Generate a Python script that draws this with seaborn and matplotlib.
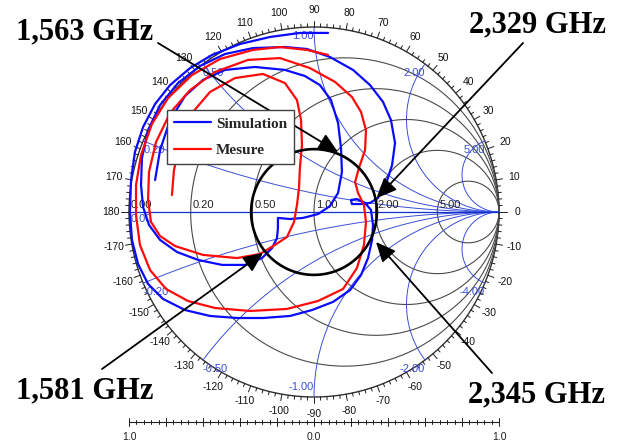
import numpy as np
import pandas as pd
import matplotlib.pyplot as plt
import seaborn as sns

# Smith chart grid values
r_circles = [0.2, 0.5, 1.0, 2.0, 5.0]
r_labels = ["0.20", "0.50", "1.00", "2.00", "5.00"]
x_arcs = [0.2, 0.5, 1.0, 2.0, 5.0, -0.2, -0.5, -1.0, -2.0, -5.0]
x_labels = ["0.20", "0.50", "1.00", "2.00", "5.00", "-0.20", "-0.50", "-1.00", "-2.00", "-4.00"]

sim_re = [0.076, -0.076, -0.238, -0.400, -0.551, -0.670, -0.778, -0.859, -0.924, -0.968,
          -0.989, -0.995, -0.984, -0.951, -0.897, -0.816, -0.697, -0.562, -0.416, -0.276,
          -0.130, -0.011, 0.103, 0.195, 0.254, 0.292, 0.314, 0.319, 0.308, 0.276,
          0.232, 0.200, 0.205, 0.249, 0.303, 0.346, 0.389, 0.422, 0.438, 0.416,
          0.373, 0.303, 0.211, 0.086, -0.038, -0.157, -0.330, -0.481, -0.616, -0.735,
          -0.832, -0.897, -0.930, -0.935, -0.924, -0.892, -0.832, -0.741, -0.627, -0.497,
          -0.373, -0.281, -0.227, -0.200, -0.195, -0.195, -0.130, -0.059, 0.022, 0.086,
          0.130, 0.151, 0.146, 0.130, 0.092, 0.032, -0.049, -0.157, -0.319, -0.481,
          -0.600, -0.697, -0.778, -0.832, -0.859]
sim_im = [0.968, 0.968, 0.946, 0.908, 0.849, 0.778, 0.686, 0.584, 0.459, 0.324,
          0.173, 0.000, -0.151, -0.281, -0.389, -0.470, -0.530, -0.562, -0.573, -0.573,
          -0.562, -0.530, -0.486, -0.422, -0.341, -0.249, -0.151, -0.070, 0.011, 0.049,
          0.070, 0.065, 0.043, 0.043, 0.049, 0.076, 0.151, 0.254, 0.373, 0.497,
          0.595, 0.686, 0.768, 0.838, 0.881, 0.892, 0.886, 0.854, 0.789, 0.697,
          0.578, 0.443, 0.292, 0.146, 0.027, -0.070, -0.151, -0.216, -0.259, -0.286,
          -0.286, -0.249, -0.195, -0.141, -0.086, -0.032, -0.038, -0.032, -0.011, 0.032,
          0.103, 0.216, 0.346, 0.481, 0.605, 0.686, 0.735, 0.768, 0.784, 0.768,
          0.714, 0.627, 0.497, 0.335, 0.173]

mes_re = [0.076, -0.038, -0.184, -0.330, -0.508, -0.659, -0.789, -0.876, -0.935, -0.962,
          -0.962, -0.941, -0.886, -0.800, -0.681, -0.535, -0.346, -0.146, 0.022, 0.157,
          0.232, 0.270, 0.281, 0.270, 0.238, 0.222, 0.243, 0.276, 0.281, 0.254,
          0.205, 0.114, -0.022, -0.184, -0.357, -0.535, -0.670, -0.778, -0.854, -0.892,
          -0.897, -0.881, -0.832, -0.751, -0.600, -0.416, -0.292, -0.211, -0.146, -0.108,
          -0.092, -0.081, -0.076, -0.065, -0.070, -0.092, -0.157, -0.276, -0.427, -0.562,
          -0.654, -0.719, -0.757, -0.768]
mes_im = [0.849, 0.876, 0.892, 0.876, 0.827, 0.741, 0.616, 0.476, 0.308, 0.146,
          -0.016, -0.178, -0.314, -0.416, -0.481, -0.519, -0.535, -0.524, -0.481, -0.416,
          -0.303, -0.178, -0.054, 0.038, 0.103, 0.162, 0.238, 0.335, 0.443, 0.541,
          0.622, 0.703, 0.778, 0.832, 0.822, 0.757, 0.659, 0.535, 0.378, 0.216,
          0.065, -0.054, -0.130, -0.184, -0.232, -0.249, -0.227, -0.178, -0.135, -0.054,
          0.038, 0.130, 0.243, 0.362, 0.497, 0.605, 0.697, 0.746, 0.724, 0.649,
          0.541, 0.389, 0.227, 0.092]

# marked frequencies and the |S11| circle they sit on
freq_labels = ["1,563 GHz", "2,329 GHz", "1,581 GHz", "2,345 GHz"]
marker_radius = 0.34

sns.set_style("white")
plt.rcParams["font.family"] = ["Liberation Sans", "DejaVu Sans"]

W, H = 622, 443
CX, CY, R = 314, 212, 185


def px(x, y):
    # pixel position in the picture -> chart units (layout only)
    return (x - CX) / R, (CY - y) / R


fig = plt.figure(figsize=(W / 100, H / 100), dpi=100)
ax = fig.add_axes([0, 0, 1, 1])
ax.set_xlim(-CX / R, (W - CX) / R)
ax.set_ylim((CY - H) / R, CY / R)
ax.axis("off")

grid_k = "#4a4a4a"
grid_b = "#3a4fd8"
t = np.linspace(0, 2 * np.pi, 400)

# outer circle
ax.plot(np.cos(t), np.sin(t), color="#303030", lw=1.0, zorder=2)

# constant resistance circles
for r, lab in zip(r_circles, r_labels):
    c, rad = r / (1 + r), 1 / (1 + r)
    ax.plot(c + rad * np.cos(t), rad * np.sin(t), color=grid_k, lw=0.8, zorder=2)
    ax.text(c - rad + 0.01, 0.012, lab, fontsize=8, color="#222222", ha="left", va="bottom", zorder=3)
ax.text(-0.99, 0.012, "0.00", fontsize=8, color="#222222", ha="left", va="bottom", zorder=3)
ax.text(-0.99, -0.012, "0.00", fontsize=8, color=grid_b, ha="left", va="top", zorder=3)

# constant reactance arcs
rr = np.concatenate([[0], np.geomspace(1e-3, 1e3, 400)])
for xv, lab in zip(x_arcs, x_labels):
    z = rr + 1j * xv
    g = (z - 1) / (z + 1)
    ax.plot(g.real, g.imag, color=grid_b, lw=0.7, zorder=2)
    e = g[0]
    ha = "left" if e.real < -0.01 else "right"
    if lab == "-1.00":
        ax.text(e.real, e.imag + 0.025, lab, fontsize=8, color=grid_b, ha=ha, va="bottom", zorder=3)
    else:
        ax.text(e.real, e.imag - 0.02, lab, fontsize=8, color=grid_b, ha=ha, va="top", zorder=3)
ax.plot([-1, 1], [0, 0], color="#1030d0", lw=0.9, zorder=2)

# angle scale round the outside
for deg in range(-180, 180, 2):
    a = np.deg2rad(deg)
    L = 0.035 if deg % 10 == 0 else 0.018
    if deg in (0, -180):
        L = 0.045
    ax.plot([np.cos(a), (1 + L) * np.cos(a)], [np.sin(a), (1 + L) * np.sin(a)],
            color="#202020", lw=0.7, zorder=2)
    if deg % 10 == 0:
        txt = "180" if deg == -180 else str(deg)
        rl = 1.09 if abs(deg) > 20 and abs(deg) < 160 else 1.1
        ax.text(rl * np.cos(a), rl * np.sin(a), txt, fontsize=7.5, color="#111111",
                ha="center", va="center", zorder=3)

# ruler under the chart
ry = px(0, 422)[1]
ax.plot([-1, 1], [ry, ry], color="#202020", lw=0.8)
for k, v in enumerate(np.linspace(-1, 1, 51)):
    h = 0.022 if k % 5 == 0 else 0.011
    ax.plot([v, v], [ry - h, ry + h], color="#202020", lw=0.7)
for v, lab in zip([-1, 0, 1], ["1.0", "0.0", "1.0"]):
    ax.text(v, px(0, 437)[1], lab, fontsize=7.5, color="#202020", ha="center", va="center")

# measured / simulated S11
df = pd.concat([
    pd.DataFrame({"re": sim_re, "im": sim_im, "trace": "Simulation"}),
    pd.DataFrame({"re": mes_re, "im": mes_im, "trace": "Mesure"}),
], ignore_index=True)
sns.lineplot(data=df, x="re", y="im", hue="trace", sort=False, estimator=None,
             palette={"Simulation": "#0a0aff", "Mesure": "#ff0a0a"}, lw=1.6, ax=ax, zorder=4)

# highlighted circle and frequency arrows
ax.plot(marker_radius * np.cos(t), marker_radius * np.sin(t), color="black", lw=1.9, zorder=5)
arrows = [((158, 43), (338, 152)), ((523, 43), (377, 198)),
          ((102, 369), (263, 253)), ((492, 373), (376, 242))]
for (s, e) in arrows:
    ax.annotate("", xy=px(*e), xytext=px(*s),
                arrowprops=dict(arrowstyle="-|>,head_length=0.6,head_width=0.27",
                                color="black", lw=1.3, shrinkA=0, shrinkB=0, mutation_scale=20),
                zorder=6)
text_pos = [(85, 32), (538, 25), (85, 391), (537, 395)]
for lab, (x, y) in zip(freq_labels, text_pos):
    ax.text(*px(x, y), lab, fontsize=22, fontweight="bold", color="black",
            family=["Liberation Serif", "DejaVu Serif"], ha="center", va="center", zorder=6)

handles, labels = ax.get_legend_handles_labels()
leg = ax.legend(handles, labels, loc="upper left", bbox_to_anchor=(167 / W, 1 - 110 / H),
                borderaxespad=0, frameon=True, fancybox=False, framealpha=1,
                edgecolor="#404040", handlelength=2.4, handletextpad=0.35,
                labelspacing=0.85, borderpad=0.45,
                prop={"family": ["Liberation Serif", "DejaVu Serif"], "weight": "bold", "size": 11})
leg.get_frame().set_linewidth(1.0)
leg.set_zorder(7)

plt.savefig("out.png", dpi=100)
plt.close()
